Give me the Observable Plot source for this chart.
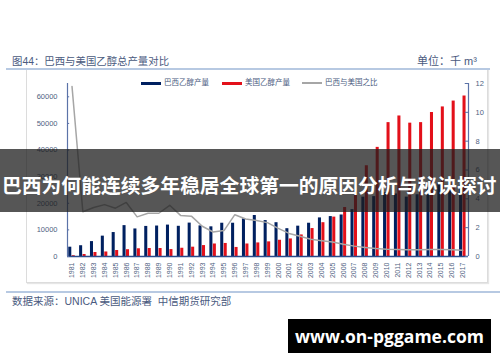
<!DOCTYPE html>
<html><head><meta charset="utf-8">
<script src="https://cdn.jsdelivr.net/npm/d3@7"></script>
<script src="https://cdn.jsdelivr.net/npm/@observablehq/plot@0.6"></script>
<style>
body{margin:0;background:#fff;}
#wrap{position:relative;width:500px;height:362px;overflow:hidden;font-family:"Liberation Sans","Noto Sans CJK SC",sans-serif;}
.abs{position:absolute;white-space:nowrap;}
.hline{position:absolute;height:2px;background:#b7c9e2;}
#frame{position:absolute;left:26px;top:69px;width:460px;height:212px;border:1px solid #dcdcdc;box-shadow:1px 1px 1px #e6e6e6;}
#chart{position:absolute;left:0;top:0;}
.title{color:#4a5a80;font-size:10.4px;}
.leg{position:absolute;top:78px;font-size:7.5px;color:#4a5a80;line-height:10px;}
.sw{display:inline-block;width:20px;height:3px;vertical-align:middle;margin-right:3px;}
#banner{position:absolute;left:0;top:149px;width:500px;height:63px;background:rgba(30,30,30,0.75);}
#banner span{position:absolute;left:2px;top:24px;line-height:24px;color:#fff;font-weight:bold;font-size:19.8px;font-family:"Noto Sans CJK SC",sans-serif;}
#wm{position:absolute;left:288px;top:319px;width:203px;height:34px;background:#000;color:#fff;font-weight:bold;font-size:17.5px;line-height:34px;text-align:center;font-family:"Open Sans","DejaVu Sans",sans-serif;}
</style></head><body>
<div id="wrap">
  <div id="frame"></div>
  <div class="hline" style="left:6px;top:68px;width:484px;"></div>
  <div class="hline" style="left:6px;top:291px;width:494px;"></div>
  <div class="abs title" style="left:12px;top:53px;">图44：巴西与美国乙醇总产量对比</div>
  <div class="abs title" style="left:417px;top:52px;font-size:11px;">单位：千 m³</div>
  <div class="abs title" style="left:12px;top:293px;font-size:10.5px;">数据来源：UNICA 美国能源署&nbsp; 中信期货研究部</div>
  <div id="chart"></div>
  <div class="leg" style="left:141px;"><span class="sw" style="background:#002060"></span>巴西乙醇产量</div>
  <div class="leg" style="left:222px;"><span class="sw" style="background:#e3101a"></span>美国乙醇产量</div>
  <div class="leg" style="left:302px;"><span class="sw" style="background:#a6a6a6;height:1.5px"></span>巴西与美国之比</div>
  <div id="banner"><span>巴西为何能连续多年稳居全球第一的原因分析与秘诀探讨</span></div>
  <div id="wm">www.on-pggame.com</div>
</div>
<script>
const years = [1981,1982,1983,1984,1985,1986,1987,1988,1989,1990,1991,1992,1993,1994,1995,1996,1997,1998,1999,2000,2001,2002,2003,2004,2005,2006,2007,2008,2009,2010,2011,2012,2013,2014,2015,2016,2017];
const brazil = [3500,4050,5600,7650,9000,11600,10350,11300,11450,11800,11350,12550,11500,11150,12500,12500,14150,15400,13500,12700,10450,11400,12500,14500,15000,15600,17600,22300,22500,24000,23500,22300,23200,26000,27500,27800,26800];
const usa = [300,750,1500,1700,2250,2550,2900,3000,3000,2600,3100,3500,4100,4700,4900,3400,4700,5100,5500,6100,6600,8100,10500,12700,14800,18400,24600,34100,41000,50300,52800,50100,50300,54100,56200,58400,60300];
const ratio = [11.8,3.1,3.4,3.6,3.35,3.75,2.75,3.0,3.0,3.55,2.85,2.8,2.1,1.7,1.8,2.9,2.6,2.5,2.35,1.95,1.6,1.4,1.2,1.1,1.0,0.85,0.72,0.63,0.55,0.5,0.48,0.47,0.47,0.48,0.49,0.46,0.43];
const leftTicks = [0,10000,20000,30000,40000,50000,60000];
const rightTicks = [0,2,4,6,8,10,12];

const yMax = 65000, rMax = 12, k = yMax / rMax;
const xDomain = [1980.585, 2017.525];
const rows = years.map((y, i) => ({year: y, brazil: brazil[i], usa: usa[i], ratio: ratio[i]}));
const txt = "#4f5f82";

const plot = Plot.plot({
  width: 500, height: 362,
  marginLeft: 67, marginRight: 32, marginTop: 83, marginBottom: 106,
  style: {background: "transparent", fontFamily: "'Liberation Sans', sans-serif", color: txt, overflow: "visible"},
  x: {type: "linear", domain: xDomain},
  y: {domain: [0, yMax]},
  marks: [
    Plot.rectY(rows, {x1: d => d.year - 0.3, x2: d => d.year - 0.02, y: "brazil", fill: "#002060"}),
    Plot.rectY(rows, {x1: d => d.year + 0.02, x2: d => d.year + 0.3, y: "usa", fill: "#e3101a"}),
    Plot.line(rows, {x: "year", y: d => d.ratio * k, stroke: "#a6a6a6", strokeWidth: 1.5}),
    Plot.ruleY([0], {x1: xDomain[0], x2: xDomain[1], stroke: "#2b4a8a", strokeWidth: 1.5}),
    Plot.ruleX([xDomain[0]], {y1: 0, y2: yMax, stroke: "#5b73a8", strokeWidth: 1.2}),
    Plot.ruleX([xDomain[1]], {y1: 0, y2: yMax, stroke: "#5b73a8", strokeWidth: 1.2}),
    Plot.ruleY(leftTicks, {x1: xDomain[0], x2: xDomain[0] + 0.2, stroke: "#5b73a8"}),
    Plot.ruleY(rightTicks.map(t => t * k), {x1: xDomain[1] - 0.3, x2: xDomain[1], stroke: "#5b73a8"}),
    Plot.axisY(leftTicks, {anchor: "left", tickSize: 0, tickPadding: 10, tickFormat: d => String(d), fontSize: 7.5, label: null}),
    Plot.axisY(rightTicks.map(t => t * k), {anchor: "right", tickSize: 0, tickPadding: 7, tickFormat: d => String(Math.round(d / k)), fontSize: 7.5, label: null}),
    Plot.axisX(years, {anchor: "bottom", tickSize: 0, tickPadding: 6, tickRotate: -90, tickFormat: d => String(d), fontSize: 7, label: null})
  ]
});
document.getElementById("chart").appendChild(plot);
</script>
</body></html>
